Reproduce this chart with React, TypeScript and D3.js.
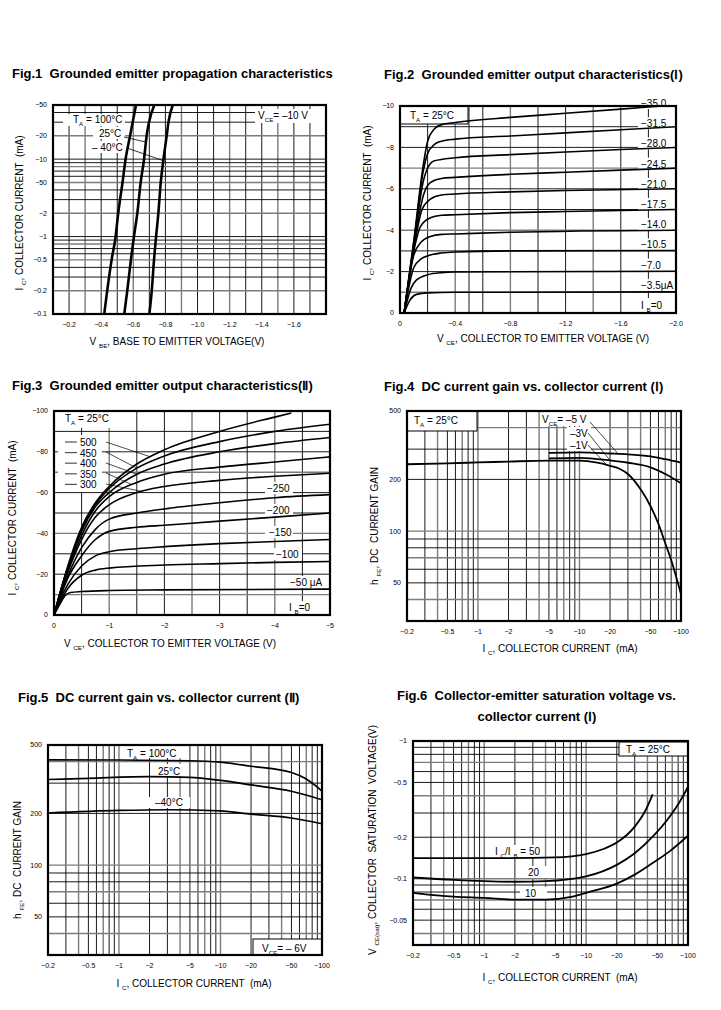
import React from 'react';
import * as d3 from 'd3';

const FONT = '"Liberation Sans", Arial, Helvetica, sans-serif';

// ---------- Fig.1 propagation ----------
const F1_X_TICKS = [0.2, 0.4, 0.6, 0.8, 1.0, 1.2, 1.4, 1.6];
const F1_X_LABELS = ['−0.2', '−0.4', '−0.6', '−0.8', '−1.0', '−1.2', '−1.4', '−1.6'];
const F1_Y_TICKS = [50, 20, 10, 5, 2, 1, 0.5, 0.2, 0.1];
const F1_Y_LABELS = ['−50', '−20', '−10', '−50', '−2', '−1', '−0.5', '−0.2', '−0.1'];
const F1_V_GRID = [0.2, 0.3, 0.4, 0.5, 0.6, 0.7, 0.8, 0.9, 1.0, 1.1, 1.2, 1.3, 1.4, 1.5, 1.6, 1.7];
const F1_T100 = [[0.419, 0.1], [0.4375, 0.2], [0.465, 0.5], [0.49, 1], [0.506, 2], [0.533, 5], [0.552, 10], [0.58, 20], [0.596, 30], [0.617, 50]];
const F1_T25 = [[0.544, 0.1], [0.5625, 0.2], [0.585, 0.5], [0.604, 1], [0.625, 2], [0.646, 5], [0.667, 10], [0.683, 20], [0.698, 30], [0.731, 50]];
const F1_TM40 = [[0.7, 0.1], [0.715, 0.2], [0.729, 0.5], [0.742, 1], [0.756, 2], [0.771, 5], [0.788, 10], [0.808, 20], [0.819, 30], [0.846, 50]];

// ---------- Fig.2 output (I) ----------
const F2_X_TICKS = [0, 0.4, 0.8, 1.2, 1.6, 2.0];
const F2_X_LABELS = ['0', '−0.4', '−0.8', '−1.2', '−1.6', '−2.0'];
const F2_Y_TICKS = [0, 2, 4, 6, 8, 10];
const F2_Y_LABELS = ['0', '−2', '−4', '−6', '−8', '−10'];
const F2_V_GRID = [0.2, 0.4, 0.5, 0.6, 0.8, 1.0, 1.2, 1.4, 1.6, 1.8];
const F2_H_GRID = [1, 2, 3, 4, 5, 6, 7, 8, 9];
const F2_IB_LABELS = ['−35.0', '−31.5', '−28.0', '−24.5', '−21.0', '−17.5', '−14.0', '−10.5', '−7.0', '−3.5μA'];
const F2_IB350 = [[0.03, 0], [0.1, 3.5], [0.17, 7.2], [0.2, 8.3], [0.25, 8.9], [0.3, 9.1], [0.4, 9.2], [0.8, 9.45], [1.2, 9.65], [1.6, 9.85], [2.0, 10.05]];
const F2_IB315 = [[0.03, 0], [0.1, 3.4], [0.17, 6.9], [0.2, 7.7], [0.25, 8.15], [0.3, 8.3], [0.4, 8.4], [0.8, 8.55], [1.2, 8.7], [1.6, 8.85], [2.0, 9.0]];
const F2_IB280 = [[0.03, 0], [0.1, 3.3], [0.17, 6.4], [0.2, 7.0], [0.25, 7.35], [0.4, 7.5], [0.8, 7.65], [1.2, 7.78], [1.6, 7.9], [2.0, 8.0]];
const F2_IB245 = [[0.03, 0], [0.1, 3.2], [0.17, 5.7], [0.22, 6.3], [0.3, 6.5], [0.4, 6.55], [0.8, 6.7], [1.2, 6.8], [1.6, 6.9], [2.0, 7.0]];
const F2_IB210 = [[0.03, 0], [0.1, 3.1], [0.16, 5.0], [0.22, 5.5], [0.3, 5.7], [0.4, 5.75], [0.8, 5.85], [1.2, 5.92], [2.0, 6.0]];
const F2_IB175 = [[0.03, 0], [0.1, 3.0], [0.15, 4.2], [0.22, 4.6], [0.3, 4.72], [0.4, 4.75], [0.8, 4.85], [1.2, 4.9], [2.0, 5.0]];
const F2_IB140 = [[0.03, 0], [0.1, 2.8], [0.15, 3.4], [0.22, 3.7], [0.3, 3.8], [0.4, 3.82], [0.8, 3.9], [2.0, 4.0]];
const F2_IB105 = [[0.03, 0], [0.1, 2.2], [0.15, 2.6], [0.22, 2.8], [0.3, 2.9], [0.4, 2.95], [0.8, 3.0], [2.0, 3.02]];
const F2_IB70 = [[0.03, 0], [0.08, 1.2], [0.12, 1.6], [0.2, 1.85], [0.3, 1.95], [0.4, 1.98], [2.0, 2.02]];
const F2_IB35 = [[0.03, 0], [0.07, 0.6], [0.12, 0.9], [0.2, 0.97], [0.4, 1.0], [2.0, 1.02]];
const F2_IB0 = [[0, 0], [2.0, 0]];

// ---------- Fig.3 output (II) ----------
const F3_X_TICKS = [0, 1, 2, 3, 4, 5];
const F3_X_LABELS = ['0', '−1', '−2', '−3', '−4', '−5'];
const F3_Y_TICKS = [0, 20, 40, 60, 80, 100];
const F3_Y_LABELS = ['0', '−20', '−40', '−60', '−80', '−100'];
const F3_V_GRID = [0.5, 1, 1.5, 2, 2.5, 3, 3.5, 4, 4.5];
const F3_H_GRID = [10, 20, 30, 40, 50, 60, 70, 80, 90];
const F3_LEFT_LABELS = ['500', '450', '400', '350', '300'];
const F3_RIGHT_LABELS = ['−250', '−200', '−150', '−100'];
const F3_IB500 = [[0, 0], [0.1, 10], [0.25, 24], [0.5, 43], [0.75, 55], [1.0, 63], [1.5, 74], [2.0, 81], [3.0, 90], [4.0, 97], [4.3, 99]];
const F3_IB450 = [[0, 0], [0.1, 10], [0.25, 23], [0.5, 42], [0.75, 54], [1.0, 62], [1.5, 72], [2.0, 78], [3.0, 85], [4.0, 90], [5.0, 93.5]];
const F3_IB400 = [[0, 0], [0.1, 10], [0.25, 23], [0.5, 41], [0.75, 53], [1.0, 60], [1.5, 69], [2.0, 74], [3.0, 80], [4.0, 84], [5.0, 87]];
const F3_IB350 = [[0, 0], [0.1, 9], [0.25, 22], [0.5, 39], [0.75, 51], [1.0, 58], [1.5, 65], [2.0, 69], [3.0, 72.5], [4.0, 75], [5.0, 77.5]];
const F3_IB300 = [[0, 0], [0.1, 9], [0.25, 21], [0.5, 37], [0.75, 48], [1.0, 54], [1.5, 60], [2.0, 63], [3.0, 66], [4.0, 68], [5.0, 69.5]];
const F3_IB250 = [[0, 0], [0.1, 8], [0.25, 19], [0.5, 33], [0.75, 42], [1.0, 47], [1.5, 50], [2.0, 52], [3.0, 55], [4.0, 57.5], [5.0, 59]];
const F3_IB200 = [[0, 0], [0.1, 8], [0.25, 18], [0.5, 29], [0.75, 37], [1.0, 41], [1.5, 43], [2.0, 44], [3.0, 46], [4.0, 48], [5.0, 50]];
const F3_IB150 = [[0, 0], [0.1, 7], [0.25, 15], [0.5, 24], [0.75, 29], [1.0, 31], [1.5, 32.5], [2.0, 33.5], [3.0, 35], [4.0, 36], [5.0, 37]];
const F3_IB100 = [[0, 0], [0.1, 6], [0.25, 13], [0.5, 19.5], [0.75, 22], [1.0, 23], [2.0, 24.5], [3.0, 25.2], [4.0, 25.8], [5.0, 26.2]];
const F3_IB50 = [[0, 0], [0.1, 5], [0.2, 9.5], [0.3, 11], [0.5, 11.5], [1.0, 12], [2.0, 12.3], [5.0, 12.7]];
const F3_IB0 = [[0, 0], [5, 0]];

// ---------- Fig.4 / Fig.5 hFE ----------
const HFE_X_TICKS = [0.2, 0.5, 1, 2, 5, 10, 20, 50, 100];
const HFE_X_LABELS = ['−0.2', '−0.5', '−1', '−2', '−5', '−10', '−20', '−50', '−100'];
const HFE_Y_TICKS = [500, 200, 100, 50];
const HFE_Y_LABELS = ['500', '200', '100', '50'];
const F4_VCE1 = [[0.2, 245], [0.5, 248], [1, 251], [2, 254], [5, 257], [10, 257], [15, 250], [20, 240], [25, 230], [30, 215], [40, 175], [50, 140], [60, 110], [70, 85], [80, 68], [100, 43]];
const F4_VCE3 = [[5, 265], [10, 267], [20, 258], [30, 250], [50, 235], [70, 215], [100, 190]];
const F4_VCE5 = [[5, 285], [10, 287], [20, 283], [30, 280], [50, 272], [70, 262], [100, 250]];
const F5_T100 = [[0.2, 410], [1, 409], [5, 405], [10, 397], [20, 376], [50, 346], [70, 317], [100, 270]];
const F5_T25 = [[0.2, 315], [0.5, 320], [2, 327], [5, 324], [10, 311], [20, 293], [50, 269], [100, 240]];
const F5_TM40 = [[0.2, 201], [1, 208], [3, 210], [10, 207], [20, 198], [50, 188], [100, 174]];

// ---------- Fig.6 VCE(sat) ----------
const F6_Y_TICKS = [1, 0.5, 0.2, 0.1, 0.05];
const F6_Y_LABELS = ['−1', '−0.5', '−0.2', '−0.1', '−0.05'];
const F6_R50 = [[0.2, 0.141], [1, 0.141], [5, 0.143], [10, 0.151], [15, 0.165], [20, 0.183], [30, 0.239], [38, 0.31], [45, 0.41]];
const F6_R20 = [[0.2, 0.102], [0.5, 0.098], [1, 0.096], [2, 0.095], [4, 0.096], [10, 0.104], [20, 0.126], [30, 0.153], [45, 0.202], [66, 0.282], [83, 0.362], [100, 0.465]];
const F6_R10 = [[0.2, 0.079], [0.5, 0.074], [1, 0.0725], [2, 0.0705], [4, 0.0705], [7.4, 0.074], [10, 0.079], [20, 0.0921], [30, 0.107], [45, 0.13], [66, 0.158], [100, 0.205]];

type Part = string | { sub: string };

function logGrid(lo: number, hi: number): number[] {
  const out: number[] = [];
  for (let e = Math.floor(Math.log10(lo)); e <= Math.ceil(Math.log10(hi)); e++) {
    for (let m = 1; m < 10; m++) {
      const v = +(m * Math.pow(10, e)).toPrecision(3);
      if (v > lo * 1.0001 && v < hi * 0.9999) out.push(v);
    }
  }
  return out;
}

function Rich({ parts, size }: { parts: Part[]; size: number }) {
  const out: any[] = [];
  let shift = 0;
  parts.forEach((p, i) => {
    if (typeof p === 'string') {
      out.push(<tspan key={i} dy={shift ? -shift : undefined}>{p}</tspan>);
      shift = 0;
    } else {
      const s = size * 0.32;
      out.push(<tspan key={i} fontSize={size * 0.62} dy={s}>{p.sub}</tspan>);
      shift = s;
    }
  });
  return <>{out}</>;
}

function Txt({ x, y, parts, size = 10, anchor = 'start', rotate = false, weight = 'normal' }:
  { x: number; y: number; parts: Part[]; size?: number; anchor?: string; rotate?: boolean; weight?: string }) {
  return (
    <text
      transform={rotate ? `translate(${x},${y}) rotate(-90)` : undefined}
      x={rotate ? 0 : x} y={rotate ? 0 : y}
      fontSize={size} textAnchor={anchor as any} fontWeight={weight} fill="#000"
      style={{ whiteSpace: 'pre' }}>
      <Rich parts={parts} size={size} />
    </text>
  );
}

interface Cfg {
  id: string;
  x: number; y: number; w: number; h: number;
  xLog: boolean; xDomain: [number, number];
  yLog: boolean; yDomain: [number, number];
  xTicks: number[]; xLabels: string[];
  yTicks: number[]; yLabels: string[];
  vGrid: number[]; hGrid: number[];
  curves: number[][][];
  curveWidth: number;
}

type Sc = (v: number) => number;

function Chart({ c, boxes, notes }: { c: Cfg; boxes?: (x: Sc, y: Sc) => any; notes?: (x: Sc, y: Sc) => any }) {
  const x: any = (c.xLog ? d3.scaleLog() : d3.scaleLinear()).domain(c.xDomain).range([c.x, c.x + c.w]);
  const y: any = (c.yLog ? d3.scaleLog() : d3.scaleLinear()).domain(c.yDomain).range([c.y + c.h, c.y]);
  const line = d3.line<number[]>().x(d => x(d[0])).y(d => y(d[1])).curve(d3.curveMonotoneX);
  const gs = (i: number) => (i % 3 === 1 ? { stroke: '#7c7c7c', w: 1.4 } : { stroke: '#000', w: 0.9 });
  const clip = `clip-${c.id}`;
  return (
    <g>
      <defs>
        <clipPath id={clip}><rect x={c.x} y={c.y} width={c.w} height={c.h} /></clipPath>
      </defs>
      <rect x={c.x} y={c.y} width={c.w} height={c.h} fill="#fff" />
      <g clipPath={`url(#${clip})`}>
        {c.vGrid.map((v, i) => {
          const s = gs(i);
          return <line key={'v' + i} x1={x(v)} x2={x(v)} y1={c.y} y2={c.y + c.h} stroke={s.stroke} strokeWidth={s.w} />;
        })}
        {c.hGrid.map((v, i) => {
          const s = gs(i + 1);
          return <line key={'h' + i} x1={c.x} x2={c.x + c.w} y1={y(v)} y2={y(v)} stroke={s.stroke} strokeWidth={s.w} />;
        })}
      </g>
      {boxes && boxes(x, y)}
      <g clipPath={`url(#${clip})`}>
        {c.curves.map((pts, i) => (
          <path key={'c' + i} d={line(pts) || ''} fill="none" stroke="#000" strokeWidth={c.curveWidth} strokeLinejoin="round" />
        ))}
      </g>
      <rect x={c.x} y={c.y} width={c.w} height={c.h} fill="none" stroke="#000" strokeWidth={2.2} />
      {c.xTicks.map((v, i) => (
        <text key={'xt' + i} x={x(v)} y={c.y + c.h + 13} fontSize={7} textAnchor="middle">{c.xLabels[i]}</text>
      ))}
      {c.yTicks.map((v, i) => (
        <text key={'yt' + i} x={c.x - 6} y={y(v)} dy="0.35em" fontSize={7} textAnchor="end">{c.yLabels[i]}</text>
      ))}
      {notes && notes(x, y)}
    </g>
  );
}

const W = (x: number, y: number, w: number, h: number) => <rect x={x} y={y} width={w} height={h} fill="#fff" />;

const fig1: Cfg = {
  id: 'f1', x: 53, y: 105, w: 273, h: 209,
  xLog: false, xDomain: [0.1, 1.8], yLog: true, yDomain: [0.1, 50],
  xTicks: F1_X_TICKS, xLabels: F1_X_LABELS, yTicks: F1_Y_TICKS, yLabels: F1_Y_LABELS,
  vGrid: F1_V_GRID, hGrid: logGrid(0.1, 50),
  curves: [F1_T100, F1_T25, F1_TM40], curveWidth: 2.6,
};

const fig2: Cfg = {
  id: 'f2', x: 400, y: 106, w: 276, h: 207,
  xLog: false, xDomain: [0, 2.0], yLog: false, yDomain: [0, 10],
  xTicks: F2_X_TICKS, xLabels: F2_X_LABELS, yTicks: F2_Y_TICKS, yLabels: F2_Y_LABELS,
  vGrid: F2_V_GRID, hGrid: F2_H_GRID,
  curves: [F2_IB350, F2_IB315, F2_IB280, F2_IB245, F2_IB210, F2_IB175, F2_IB140, F2_IB105, F2_IB70, F2_IB35, F2_IB0],
  curveWidth: 1.6,
};

const fig3: Cfg = {
  id: 'f3', x: 54, y: 411, w: 276, h: 204,
  xLog: false, xDomain: [0, 5], yLog: false, yDomain: [0, 100],
  xTicks: F3_X_TICKS, xLabels: F3_X_LABELS, yTicks: F3_Y_TICKS, yLabels: F3_Y_LABELS,
  vGrid: F3_V_GRID, hGrid: F3_H_GRID,
  curves: [F3_IB500, F3_IB450, F3_IB400, F3_IB350, F3_IB300, F3_IB250, F3_IB200, F3_IB150, F3_IB100, F3_IB50, F3_IB0],
  curveWidth: 1.6,
};

const fig4: Cfg = {
  id: 'f4', x: 407, y: 411, w: 274, h: 210,
  xLog: true, xDomain: [0.2, 100], yLog: true, yDomain: [30, 500],
  xTicks: HFE_X_TICKS, xLabels: HFE_X_LABELS, yTicks: HFE_Y_TICKS, yLabels: HFE_Y_LABELS,
  vGrid: logGrid(0.2, 100), hGrid: logGrid(30, 500),
  curves: [F4_VCE1, F4_VCE3, F4_VCE5], curveWidth: 1.8,
};

const fig5: Cfg = {
  id: 'f5', x: 48, y: 745, w: 274, h: 210,
  xLog: true, xDomain: [0.2, 100], yLog: true, yDomain: [30, 500],
  xTicks: HFE_X_TICKS, xLabels: HFE_X_LABELS, yTicks: HFE_Y_TICKS, yLabels: HFE_Y_LABELS,
  vGrid: logGrid(0.2, 100), hGrid: logGrid(30, 500),
  curves: [F5_T100, F5_T25, F5_TM40], curveWidth: 1.7,
};

const fig6: Cfg = {
  id: 'f6', x: 413, y: 741, w: 275, h: 204,
  xLog: true, xDomain: [0.2, 100], yLog: true, yDomain: [0.033, 1],
  xTicks: HFE_X_TICKS, xLabels: HFE_X_LABELS, yTicks: F6_Y_TICKS, yLabels: F6_Y_LABELS,
  vGrid: logGrid(0.2, 100), hGrid: logGrid(0.033, 1),
  curves: [F6_R50, F6_R20, F6_R10], curveWidth: 1.8,
};

const IC_TITLE: Part[] = ['I ', { sub: 'C' }, ', COLLECTOR CURRENT  (mA)'];
const IC_X_TITLE: Part[] = ['I ', { sub: 'C' }, ', COLLECTOR CURRENT  (mA)'];
const HFE_TITLE: Part[] = ['h ', { sub: 'FE' }, ', DC  CURRENT GAIN'];
const VCE_X_TITLE: Part[] = ['V ', { sub: 'CE' }, ', COLLECTOR TO EMITTER VOLTAGE (V)'];
const AX = 10;
const TS = 13;

export default function App() {
  return (
    <div style={{ position: 'absolute', left: 0, top: 0, background: '#fff' }}>
      <svg width={721} height={1010} style={{ display: 'block', fontFamily: FONT }}>
        <rect width={721} height={1010} fill="#fff" />

        {/* titles */}
        <Txt x={12} y={78} size={TS} weight="bold" parts={['Fig.1  Grounded emitter propagation characteristics']} />
        <Txt x={384} y={79} size={TS} weight="bold" parts={['Fig.2  Grounded emitter output characteristics(Ⅰ)']} />
        <Txt x={12} y={390} size={TS} weight="bold" parts={['Fig.3  Grounded emitter output characteristics(Ⅱ)']} />
        <Txt x={384} y={391} size={TS} weight="bold" parts={['Fig.4  DC current gain vs. collector current (Ⅰ)']} />
        <Txt x={18} y={702} size={TS} weight="bold" parts={['Fig.5  DC current gain vs. collector current (Ⅱ)']} />
        <Txt x={397} y={700} size={TS} weight="bold" parts={['Fig.6  Collector-emitter saturation voltage vs.']} />
        <Txt x={537} y={721} size={TS} weight="bold" anchor="middle" parts={['collector current (Ⅰ)']} />

        {/* Fig.1 */}
        <Chart c={fig1}
          boxes={() => (<g>{W(63, 114, 62, 12)}{W(93, 127, 32, 12)}{W(88, 141, 37, 12)}{W(255, 109, 71, 14)}</g>)}
          notes={(x, y) => (
            <g>
              <Txt x={73} y={123} parts={['T', { sub: 'A' }, ' = 100°C']} />
              <Txt x={99} y={137} parts={['25°C']} />
              <Txt x={92} y={151} parts={['– 40°C']} />
              <line x1={124} y1={137} x2={x(0.679)} y2={y(16.6)} stroke="#000" strokeWidth={0.8} />
              <line x1={127} y1={148} x2={x(0.79)} y2={y(9.5)} stroke="#000" strokeWidth={0.8} />
              <Txt x={258} y={119} parts={['V', { sub: 'CE' }, '= –10 V']} />
            </g>
          )} />
        <Txt x={23} y={213} size={AX} rotate anchor="middle" parts={IC_TITLE} />
        <Txt x={177} y={345} size={AX} anchor="middle" parts={['V ', { sub: 'BE' }, ', BASE TO EMITTER VOLTAGE(V)']} />

        {/* Fig.2 */}
        <Chart c={fig2}
          boxes={() => (
            <g>
              <rect x={400} y={106} width={68} height={18} fill="#fff" stroke="#000" strokeWidth={1} />
              {F2_IB_LABELS.map((_, i) => <g key={i}>{W(638, 97 + i * 20.2, 38, 12)}</g>)}
              {W(638, 298, 38, 13)}
            </g>
          )}
          notes={() => (
            <g>
              <Txt x={410} y={119} parts={['T', { sub: 'A' }, ' = 25°C']} />
              {F2_IB_LABELS.map((t, i) => <Txt key={i} x={641} y={107 + i * 20.2} parts={[t]} />)}
              <Txt x={641} y={309} parts={['I ', { sub: 'B' }, '=0']} />
            </g>
          )} />
        <Txt x={371} y={203} size={AX} rotate anchor="middle" parts={IC_TITLE} />
        <Txt x={543} y={342} size={AX} anchor="middle" parts={VCE_X_TITLE} />

        {/* Fig.3 */}
        <Chart c={fig3}
          boxes={() => (
            <g>
              {W(58, 412, 57, 16)}
              {W(58, 435, 44, 57)}
              {F3_RIGHT_LABELS.map((_, i) => <g key={i}>{W(265 + (i === 3 ? 9 : 0), 482 + i * 22, 28, 12)}</g>)}
              {W(288, 576, 38, 12)}
              {W(285, 601, 30, 13)}
            </g>
          )}
          notes={(x, y) => (
            <g>
              <Txt x={65} y={422} parts={['T', { sub: 'A' }, ' = 25°C']} />
              {F3_LEFT_LABELS.map((t, i) => (
                <g key={t}>
                  <line x1={65} x2={77} y1={442 + i * 10.6} y2={442 + i * 10.6} stroke="#555" strokeWidth={1.2} />
                  <Txt x={80} y={446 + i * 10.6} parts={[t]} />
                </g>
              ))}
              <line x1={106} y1={442} x2={x(1.75)} y2={y(77.5)} stroke="#000" strokeWidth={0.7} />
              <line x1={106} y1={452} x2={x(1.5)} y2={y(72)} stroke="#000" strokeWidth={0.7} />
              <line x1={106} y1={463} x2={x(1.5)} y2={y(69)} stroke="#000" strokeWidth={0.7} />
              <line x1={106} y1={473} x2={x(1.4)} y2={y(64)} stroke="#000" strokeWidth={0.7} />
              <line x1={106} y1={484} x2={x(1.6)} y2={y(60.5)} stroke="#000" strokeWidth={0.7} />
              {F3_RIGHT_LABELS.map((t, i) => <Txt key={t} x={267 + (i === 3 ? 9 : 0) + (i === 2 ? 2 : 0)} y={492 + i * 22} parts={[t]} />)}
              <Txt x={290} y={586} parts={['−50 μA']} />
              <Txt x={289} y={611} parts={['I ', { sub: 'B' }, '=0']} />
            </g>
          )} />
        <Txt x={16} y={518} size={AX} rotate anchor="middle" parts={IC_TITLE} />
        <Txt x={170} y={647} size={AX} anchor="middle" parts={VCE_X_TITLE} />

        {/* Fig.4 */}
        <Chart c={fig4}
          boxes={() => (
            <g>
              <rect x={407} y={411} width={70} height={20} fill="#fff" stroke="#000" strokeWidth={1} />
              {W(540, 412, 52, 14)}
              {W(567, 427, 24, 24)}
            </g>
          )}
          notes={(x, y) => (
            <g>
              <Txt x={414} y={424} parts={['T', { sub: 'A' }, ' = 25°C']} />
              <Txt x={542} y={423} parts={['V', { sub: 'CE' }, '= –5 V']} />
              <Txt x={570} y={437} parts={['–3V']} />
              <Txt x={570} y={449} parts={['–1V']} />
              <line x1={590} y1={422} x2={x(24)} y2={y(282)} stroke="#000" strokeWidth={0.7} />
              <line x1={588} y1={433} x2={x(20)} y2={y(258)} stroke="#000" strokeWidth={0.7} />
              <line x1={588} y1={445} x2={x(18.5)} y2={y(243)} stroke="#000" strokeWidth={0.7} />
            </g>
          )} />
        <Txt x={378} y={526} size={AX} rotate anchor="middle" parts={HFE_TITLE} />
        <Txt x={560} y={652} size={AX} anchor="middle" parts={IC_X_TITLE} />

        {/* Fig.5 */}
        <Chart c={fig5}
          boxes={() => (
            <g>
              {W(122, 746, 65, 12)}
              {W(153, 764, 32, 12)}
              {W(143, 797, 47, 11)}
              <rect x={253} y={939} width={69} height={16} fill="#fff" stroke="#000" strokeWidth={1} />
            </g>
          )}
          notes={() => (
            <g>
              <Txt x={127} y={757} parts={['T', { sub: 'A' }, ' = 100°C']} />
              <Txt x={158} y={775} parts={['25°C']} />
              <Txt x={155} y={806} parts={['–40°C']} />
              <Txt x={262} y={952} parts={['V', { sub: 'CE' }, '= – 6V']} />
            </g>
          )} />
        <Txt x={21} y={860} size={AX} rotate anchor="middle" parts={HFE_TITLE} />
        <Txt x={194} y={987} size={AX} anchor="middle" parts={IC_X_TITLE} />

        {/* Fig.6 */}
        <Chart c={fig6}
          boxes={() => (
            <g>
              <rect x={619} y={742} width={69} height={14} fill="#fff" stroke="#000" strokeWidth={1} />
              {W(493, 845, 50, 12)}
              {W(523, 866, 24, 12)}
              {W(520, 887, 27, 12)}
            </g>
          )}
          notes={() => (
            <g>
              <Txt x={626} y={753} parts={['T', { sub: 'A' }, ' = 25°C']} />
              <Txt x={495} y={855} parts={['I ', { sub: 'C' }, '/I ', { sub: 'B' }, ' = 50']} />
              <Txt x={528} y={876} parts={['20']} />
              <Txt x={525} y={897} parts={['10']} />
            </g>
          )} />
        <Txt x={376} y={840} size={AX} rotate anchor="middle" parts={['V ', { sub: 'CE(sat)' }, ', COLLECTOR  SATURATION  VOLTAGE(V)']} />
        <Txt x={560} y={981} size={AX} anchor="middle" parts={IC_X_TITLE} />
      </svg>
    </div>
  );
}
